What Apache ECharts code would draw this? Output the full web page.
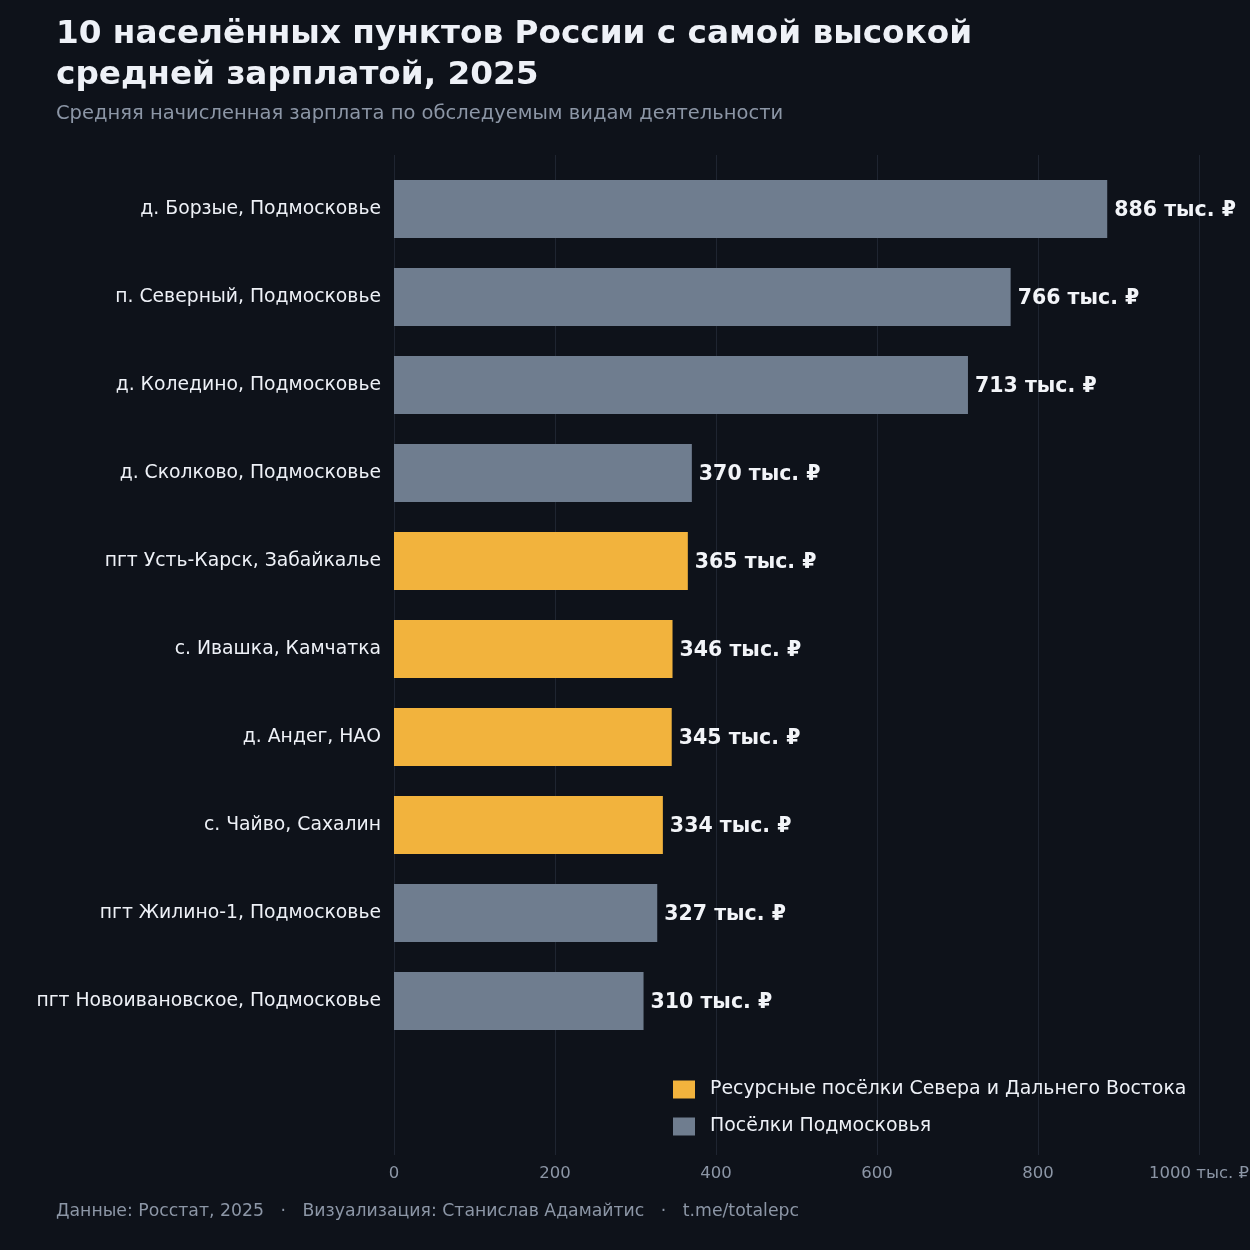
<!DOCTYPE html>
<html lang="ru">
<head>
  <meta charset="UTF-8">
  <title>Зарплаты по населённым пунктам</title>
  <script src="https://cdn.jsdelivr.net/npm/echarts@6.0.0/dist/echarts.min.js"></script>
  <style>
    html, body { margin: 0; padding: 0; background: #0e121a; }
    #chart { width: 1250px; height: 1250px; }
  </style>
</head>
<body>
  <div id="chart"></div>
  <script>
    // данные
    const places = [
      'д. Борзые, Подмосковье',
      'п. Северный, Подмосковье',
      'д. Коледино, Подмосковье',
      'д. Сколково, Подмосковье',
      'пгт Усть-Карск, Забайкалье',
      'с. Ивашка, Камчатка',
      'д. Андег, НАО',
      'с. Чайво, Сахалин',
      'пгт Жилино-1, Подмосковье',
      'пгт Новоивановское, Подмосковье'
    ];
    const salary = [886, 766, 713, 370, 365, 346, 345, 334, 327, 310];
    // 1 = ресурсный посёлок, 0 = Подмосковье
    const isResource = [0, 0, 0, 0, 1, 1, 1, 1, 0, 0];
    const groupNames = ['Ресурсные посёлки Севера и Дальнего Востока', 'Посёлки Подмосковья'];
    const xTicks = [0, 200, 400, 600, 800, 1000];

    const GOLD = '#f2b33d';
    const GRAY = '#6f7d8f';
    const FONT = 'DejaVu Sans';

    const resourceData = salary.map((v, i) => isResource[i] ? v : null);
    const moscowData = salary.map((v, i) => isResource[i] ? null : v);

    const barLabel = {
      show: true,
      position: 'right',
      distance: 7,
      offset: [0, 2],
      color: '#f2f4f8',
      fontFamily: FONT,
      fontWeight: 'bold',
      fontSize: 20.5,
      formatter: p => p.value + ' тыс. ₽'
    };

    const chart = echarts.init(document.getElementById('chart'));
    chart.setOption({
      backgroundColor: '#0e121a',
      textStyle: { fontFamily: FONT },
      animation: false,
      title: [
        {
          text: '10 населённых пунктов России с самой высокой\nсредней зарплатой, 2025',
          left: 56, top: 14, padding: 0,
          textStyle: { color: '#eef1f7', fontSize: 32.7, fontWeight: 'bold', lineHeight: 41, fontFamily: FONT }
        },
        {
          text: 'Средняя начисленная зарплата по обследуемым видам деятельности',
          left: 56, top: 104, padding: 0,
          textStyle: { color: '#8c96a6', fontSize: 19.5, fontWeight: 'normal', fontFamily: FONT }
        },
        {
          text: 'Данные: Росстат, 2025   ·   Визуализация: Станислав Адамайтис   ·   t.me/totalepc',
          left: 56, top: 1203, padding: 0,
          textStyle: { color: '#8c96a6', fontSize: 17.3, fontWeight: 'normal', fontFamily: FONT }
        }
      ],
      legend: {
        orient: 'vertical',
        left: 673, top: 1080, padding: 0,
        itemWidth: 22, itemHeight: 18, itemGap: 18,
        icon: 'rect',
        data: groupNames,
        textStyle: { color: '#eef1f7', fontSize: 18.9, fontFamily: FONT, padding: [2, 0, 0, 10] }
      },
      grid: [
        { left: 394, right: 51, top: 155, bottom: 95, outerBoundsMode: 'none' },
        { left: 394, right: 51, top: 165, height: 880, outerBoundsMode: 'none' }
      ],
      xAxis: [
        {
          gridIndex: 0, type: 'value', min: 0, max: 1000, interval: 200,
          axisLine: { show: false }, axisTick: { show: false },
          splitLine: { show: true, lineStyle: { color: '#1f2531', width: 1 } },
          axisLabel: {
            color: '#8c96a6', fontSize: 16.5, margin: 10, fontFamily: FONT,
            customValues: xTicks,
            formatter: v => v === 1000 ? '1000 тыс. ₽' : String(v)
          }
        },
        { gridIndex: 1, type: 'value', min: 0, max: 1000, show: false }
      ],
      yAxis: [
        { gridIndex: 0, type: 'value', min: 0, max: 1, show: false },
        {
          gridIndex: 1, type: 'category', inverse: true, data: places,
          axisLine: { show: false }, axisTick: { show: false },
          axisLabel: { color: '#eef1f7', fontSize: 18.8, margin: 13, fontFamily: FONT }
        }
      ],
      series: [
        {
          name: groupNames[0], type: 'bar', stack: 'all',
          xAxisIndex: 1, yAxisIndex: 1, barWidth: 58,
          itemStyle: { color: GOLD }, label: barLabel,
          data: resourceData
        },
        {
          name: groupNames[1], type: 'bar', stack: 'all',
          xAxisIndex: 1, yAxisIndex: 1, barWidth: 58,
          itemStyle: { color: GRAY }, label: barLabel,
          data: moscowData
        }
      ]
    });
  </script>
</body>
</html>
